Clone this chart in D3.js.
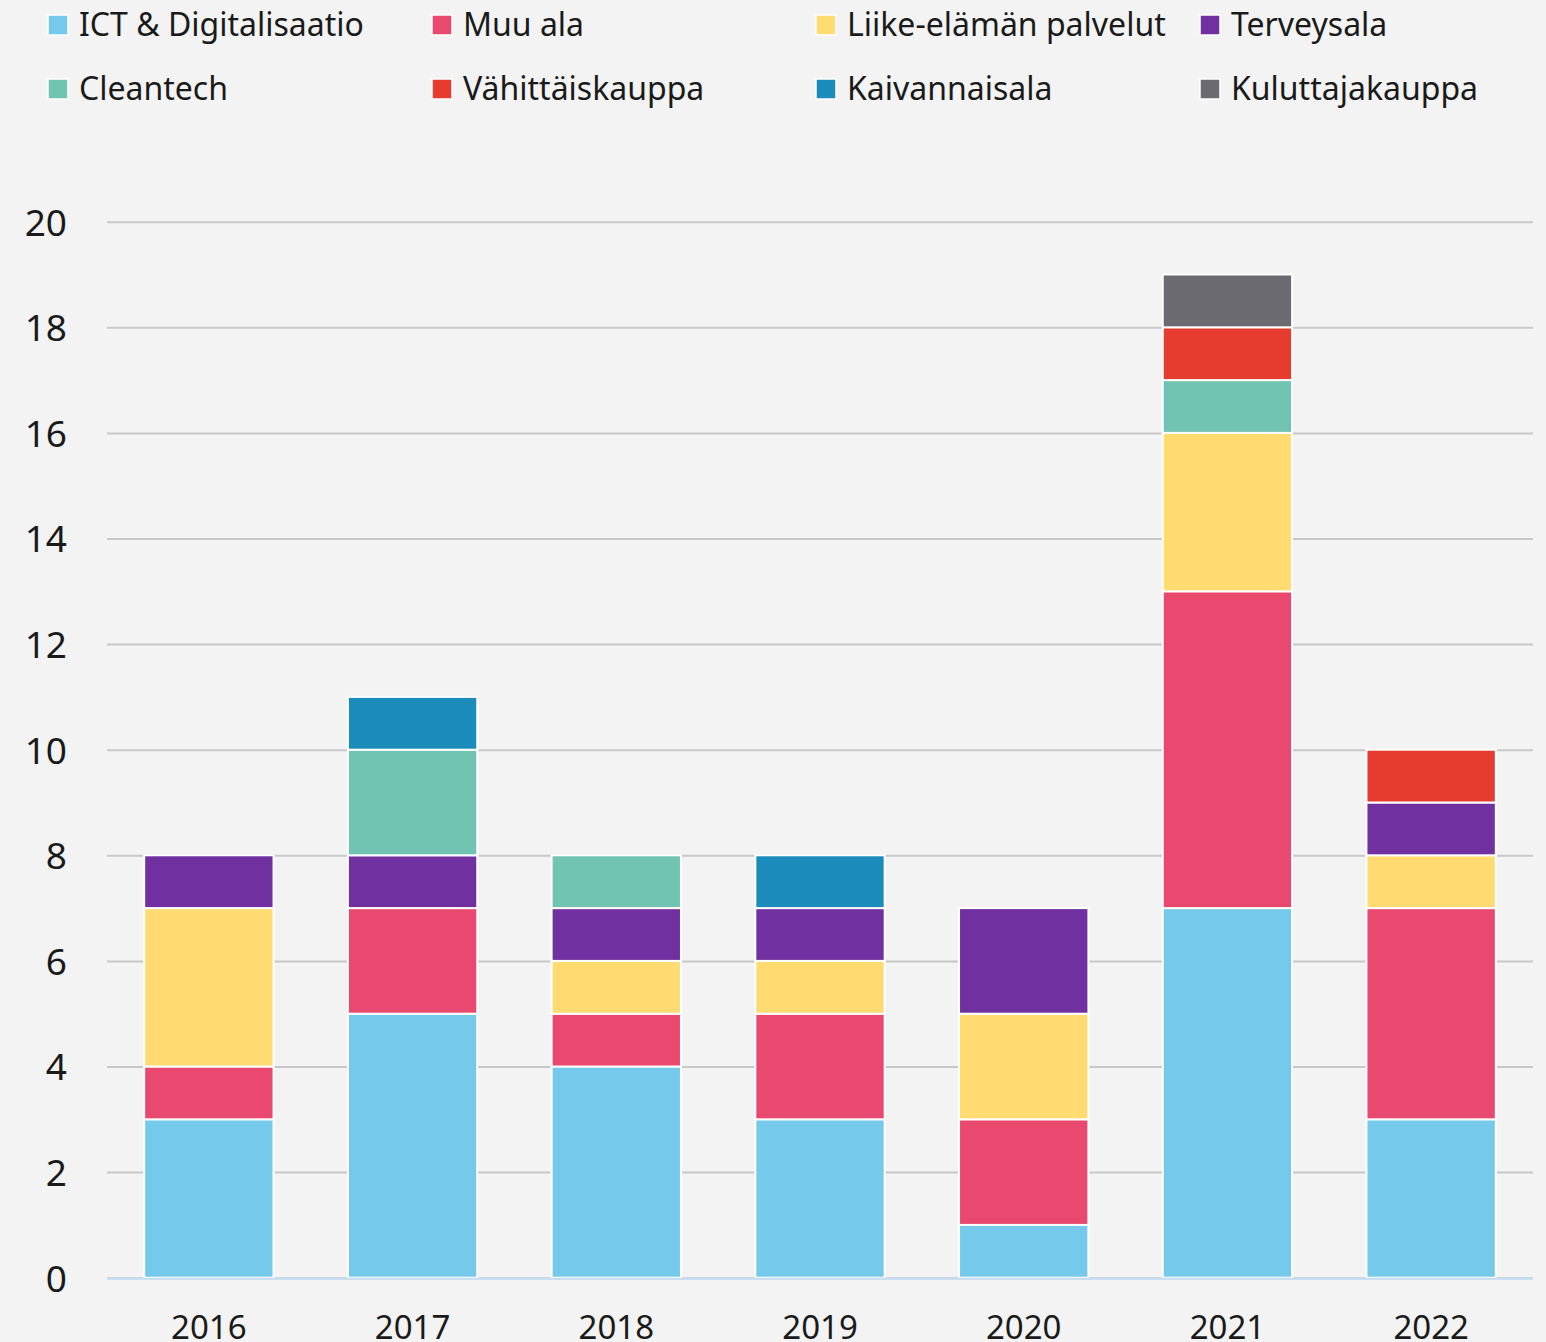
<!DOCTYPE html>
<html>
<head>
<meta charset="utf-8">
<script src="https://cdn.jsdelivr.net/npm/d3@7"></script>
<style>
  html, body { margin: 0; padding: 0; background: #f3f3f3; }
  svg { display: block; font-family: "Noto Sans", "Open Sans", sans-serif; }
</style>
</head>
<body>
<svg id="chart"></svg>
<script>
var years = ["2016", "2017", "2018", "2019", "2020", "2021", "2022"];
var sectors = ["ICT & Digitalisaatio", "Muu ala", "Liike-elämän palvelut", "Terveysala",
               "Cleantech", "Vähittäiskauppa", "Kaivannaisala", "Kuluttajakauppa"];
var colors = ["#75c9eb", "#e9496f", "#ffdb72", "#7030a0",
              "#71c3b2", "#e63c30", "#1b8cb9", "#6a6a70"];

// values per sector, one per year
var ict        = [3, 5, 4, 3, 1, 7, 3];
var muu        = [1, 2, 1, 2, 2, 6, 4];
var liike      = [3, 0, 1, 1, 2, 3, 1];
var terveys    = [1, 1, 1, 1, 2, 0, 1];
var cleantech  = [0, 2, 1, 0, 0, 1, 0];
var vahittais  = [0, 0, 0, 0, 0, 1, 1];
var kaivannais = [0, 1, 0, 1, 0, 0, 0];
var kuluttaja  = [0, 0, 0, 0, 0, 1, 0];
var yTicks = [0, 2, 4, 6, 8, 10, 12, 14, 16, 18, 20];

var seriesValues = [ict, muu, liike, terveys, cleantech, vahittais, kaivannais, kuluttaja];

var width = 1546, height = 1342;
var plotLeft = 107, plotRight = 1533, plotTop = 221.7, plotBottom = 1277.7;
var fontFam = '"Noto Sans", "Open Sans", sans-serif';

var rows = years.map(function(y, i){
	var o = {year: y};
	sectors.forEach(function(s, k){ o[s] = seriesValues[k][i]; });
	return o;
});

var svg = d3.select("#chart")
	.attr("width", width)
	.attr("height", height);

var x = d3.scaleBand()
	.domain(years)
	.range([plotLeft, plotRight])
	.paddingInner(0.365)
	.paddingOuter(0.1825);

var y = d3.scaleLinear()
	.domain([0, 20])
	.range([plotBottom, plotTop]);

// gridlines + y labels
var yAxis = d3.axisLeft(y)
	.tickValues(yTicks)
	.tickSize(-(plotRight - plotLeft))
	.tickPadding(40)
	.tickFormat(d3.format("d"));

var gy = svg.append("g")
	.attr("transform", "translate(" + plotLeft + ",0)")
	.call(yAxis)
	.attr("font-family", fontFam);
gy.select(".domain").remove();
gy.selectAll(".tick line")
	.attr("stroke", "#c8c8c8")
	.attr("stroke-width", 2);
gy.selectAll(".tick text")
	.attr("fill", "#1a1a1a")
	.attr("font-size", 37)
	.attr("dy", "0.36em");

// stacked bars
var stack = d3.stack().keys(sectors);
var layers = stack(rows);

svg.append("g").selectAll("g")
	.data(layers)
	.enter().append("g")
		.attr("fill", function(d, i){ return colors[i]; })
	.selectAll("rect")
	.data(function(d){ return d.filter(function(p){ return p[1] > p[0]; }); })
	.enter().append("rect")
		.attr("x", function(d){ return x(d.data.year); })
		.attr("y", function(d){ return y(d[1]); })
		.attr("width", x.bandwidth())
		.attr("height", function(d){ return y(d[0]) - y(d[1]); })
		.attr("stroke", "#ffffff")
		.attr("stroke-width", 2);

// baseline
svg.append("line")
	.attr("x1", plotLeft).attr("x2", plotRight)
	.attr("y1", y(0) + 1).attr("y2", y(0) + 1)
	.attr("stroke", "#c3def5")
	.attr("stroke-width", 2);

// x labels
var xAxis = d3.axisBottom(x).tickSize(0).tickPadding(0);
var gx = svg.append("g")
	.attr("transform", "translate(0," + plotBottom + ")")
	.call(xAxis)
	.attr("font-family", fontFam);
gx.select(".domain").remove();
gx.selectAll(".tick text")
	.attr("fill", "#1a1a1a")
	.attr("font-size", 33)
	.attr("y", 61)
	.attr("dy", 0);

// legend
var legendCols = [48, 432, 816, 1200];
var legendRows = [36, 100];
var legend = svg.append("g").selectAll("g")
	.data(sectors)
	.enter().append("g")
		.attr("transform", function(d, i){
			return "translate(" + legendCols[i % 4] + "," + legendRows[Math.floor(i / 4)] + ")";
		});
legend.append("rect")
	.attr("x", 0).attr("y", -21)
	.attr("width", 20).attr("height", 20)
	.attr("fill", function(d, i){ return colors[i]; })
	.attr("stroke", "#ffffff")
	.attr("stroke-width", 1.5);
legend.append("text")
	.attr("x", 31)
	.attr("y", 0)
	.attr("font-size", 32)
	.attr("fill", "#1a1a1a")
	.text(function(d){ return d; });
</script>
</body>
</html>
